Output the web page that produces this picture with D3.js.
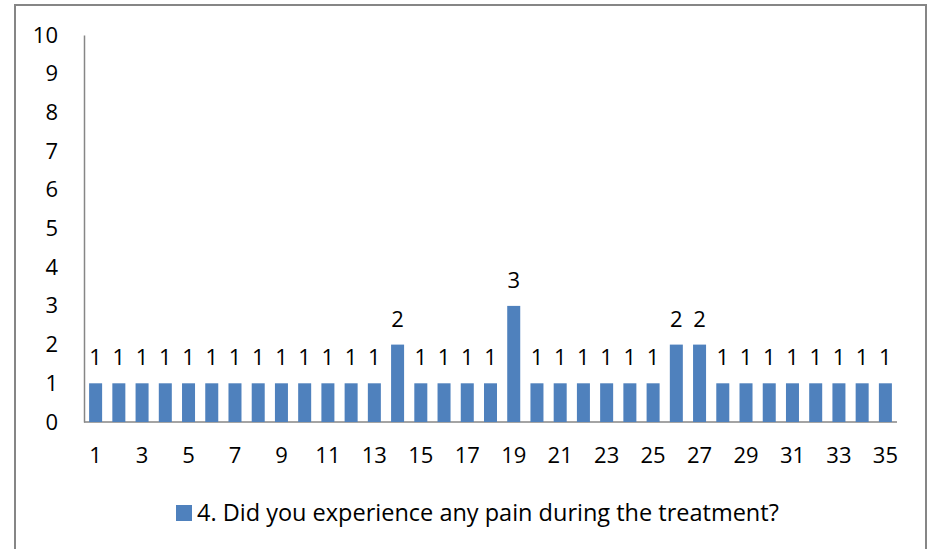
<!DOCTYPE html>
<html>
<head>
<meta charset="utf-8">
<script src="https://cdn.jsdelivr.net/npm/d3@7"></script>
<style>
  body { margin: 0; background: #fff; }
  text { font-family: "Open Sans", "Noto Sans", sans-serif; fill: #000; }
</style>
</head>
<body>
<div id="chart"></div>
<script>
const categories = d3.range(1, 36).map(String);
const values = [1,1,1,1,1,1,1,1,1,1,1,1,1,2,1,1,1,1,3,1,1,1,1,1,1,2,2,1,1,1,1,1,1,1,1];
const yTicks = [0,1,2,3,4,5,6,7,8,9,10];
const seriesName = "4. Did you experience any pain during the treatment?";

const W = 932, H = 549;
const barColor = "#4f81bd";
const grey = "#868686";

const svg = d3.select('#chart').append('svg')
  .attr('width', W)
  .attr('height', H);

// outer frame
svg.append('rect')
  .attr('x', 15).attr('y', 5)
  .attr('width', 911).attr('height', 560)
  .attr('fill', 'none')
  .attr('stroke', grey)
  .attr('stroke-width', 2);

const x = d3.scaleBand().domain(categories).range([84, 897]).paddingInner(0.44).paddingOuter(0.22);
const y = d3.scaleLinear().domain([0, 10]).range([422, 35]);

// y axis
const yAxis = svg.append('g')
  .attr('transform', 'translate(84,0)')
  .call(d3.axisLeft(y).tickValues(yTicks).tickSize(0).tickPadding(26));
yAxis.select('.domain').attr('stroke', grey).attr('stroke-width', 1.5);
yAxis.selectAll('text').style('font-size', '22px');

// x axis
const xAxis = svg.append('g')
  .attr('transform', 'translate(0,422)')
  .call(d3.axisBottom(x).tickSize(0).tickPadding(25)
    .tickFormat((d, i) => i % 2 === 0 ? d : ''));
xAxis.select('.domain').attr('stroke', grey).attr('stroke-width', 1.5).attr('d', 'M84,0H897');
xAxis.selectAll('text').style('font-size', '22px');

// bars
svg.append('g')
  .selectAll('rect').data(values)
  .enter()
  .append('rect')
    .attr('fill', barColor)
    .attr('x', (d, i) => x(categories[i]))
    .attr('y', d => y(d))
    .attr('width', x.bandwidth())
    .attr('height', d => y(0) - y(d));

// value labels
svg.append('g')
  .selectAll('text').data(values)
  .enter()
  .append('text')
    .attr('x', (d, i) => x(categories[i]) + x.bandwidth() / 2)
    .attr('y', d => y(d) - 18)
    .attr('text-anchor', 'middle')
    .style('font-size', '22px')
    .text(d => d);

// legend
const legend = svg.append('g');
legend.append('rect')
  .attr('x', 176).attr('y', 505)
  .attr('width', 16).attr('height', 16)
  .attr('fill', barColor);
legend.append('text')
  .attr('x', 197).attr('y', 521)
  .style('font-size', '23.5px')
  .text(seriesName);
</script>
</body>
</html>
